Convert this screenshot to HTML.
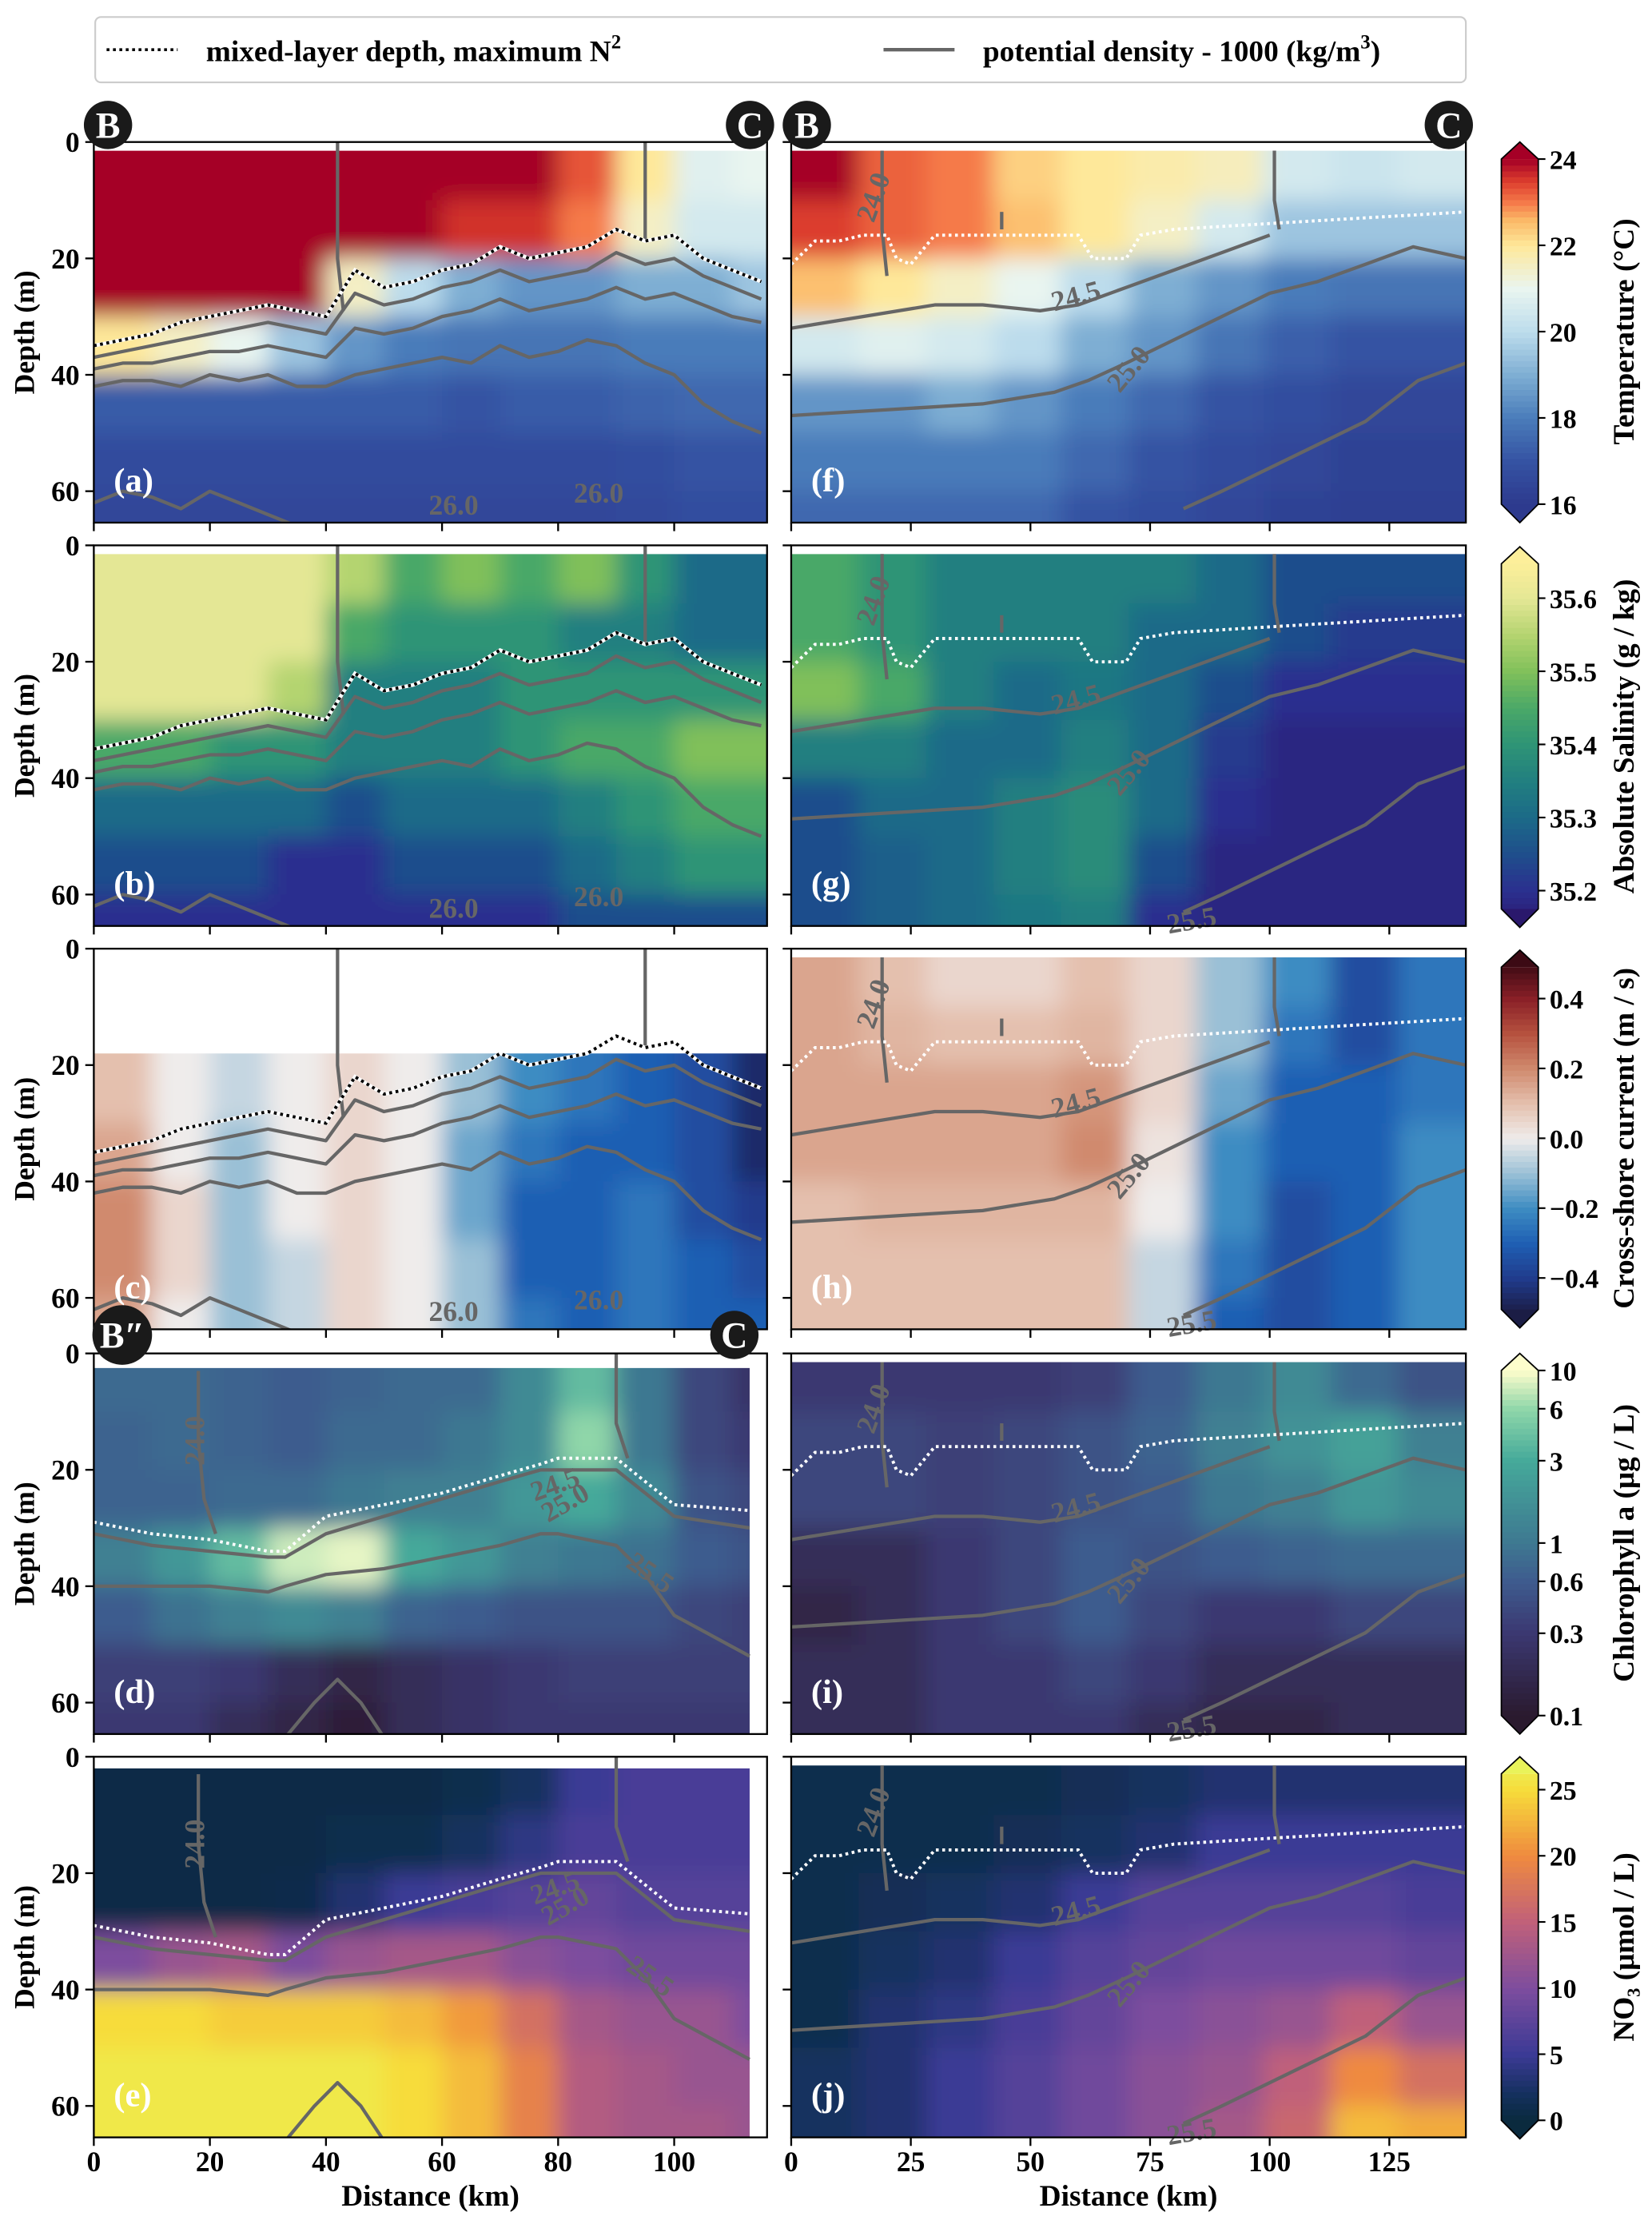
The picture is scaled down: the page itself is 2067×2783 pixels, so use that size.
<!DOCTYPE html>
<html><head><meta charset="utf-8">
<style>
html,body{margin:0;padding:0;background:#fff;}
svg{display:block;font-family:"Liberation Serif",serif;font-weight:bold;}
</style></head>
<body>
<svg id="fig" xmlns="http://www.w3.org/2000/svg" width="2067" height="2783" viewBox="0 0 1163 1566">
<defs>
<filter id="blur" x="-5%" y="-5%" width="110%" height="110%"><feGaussianBlur stdDeviation="8"/></filter>
</defs>
<g id="legend">
<rect x="67" y="12" width="965" height="46" rx="4" fill="#fff" stroke="#ccc" stroke-width="1.2"/>
<line x1="75" y1="35" x2="125" y2="35" stroke="#000" stroke-width="2" stroke-dasharray="2,2.5"/>
<text x="145" y="43" font-size="21">mixed-layer depth, maximum N<tspan font-size="14" dy="-9">2</tspan></text>
<line x1="622" y1="35" x2="672" y2="35" stroke="#666" stroke-width="2.5"/>
<text x="692" y="43" font-size="21">potential density - 1000 (kg/m<tspan font-size="14" dy="-9">3</tspan><tspan dy="9">)</tspan></text>
</g>
<g id="panels"></g>
<g id="cbars"></g>
</svg>
<script>
// ---------- DATA ----------
const depthEdges = [1.5,10,20,30,40,50,60,65.4];
const leftKmMax = 116, rightKmMax = 141;
const leftColKm = [0,10,20,30,40,50,60,70,80,90,100,110,116];
const rightColKm = [0,14.1,28.2,42.3,56.4,70.5,84.6,98.7,112.8,126.9,141];

const tempLeft = [
[24,24,24,24,24,24,24,24,23.3,22,20.8,21],
[24,24,24,24,24,24,23.6,23.6,23,21.5,20.5,20.5],
[24,24,24,24,21.5,20,19,18.5,18.5,19,19,19.5],
[22,21.5,21,19.5,18.5,18,17.8,17.8,17.8,18,18,18],
[17.2,17.2,17.2,17.2,17.2,17.2,17,17.2,17.2,17.4,17.5,17.5],
[16.7,16.7,16.7,16.7,16.7,16.7,16.7,16.7,16.7,16.8,17,17],
[16.5,16.5,16.5,16.5,16.5,16.5,16.5,16.5,16.5,16.6,16.8,16.8]];
const tempRight = [
[24,23.2,23,22.3,22,21.8,21.6,20.5,20.3,20.5],
[23.5,23.2,23,22.5,22,21.5,20.5,19.5,19.5,19.5],
[22.5,22,21.5,21,20,19,18.5,18,17.8,17.8],
[20.5,20.8,20.5,20,19,18.5,17.8,17.3,17,17],
[18.5,18.5,19,18.5,18,17.5,17,16.8,16.5,16.5],
[18,18,18,18,17.5,17,16.7,16.5,16.3,16.3],
[17.5,17.5,17.5,17.5,17,16.8,16.5,16.3,16.2,16.2]];
const salLeft = [
[35.6,35.6,35.6,35.6,35.55,35.45,35.5,35.45,35.5,35.4,35.3,35.3],
[35.6,35.6,35.6,35.6,35.45,35.4,35.4,35.4,35.35,35.35,35.3,35.3],
[35.6,35.6,35.6,35.55,35.35,35.35,35.35,35.4,35.4,35.4,35.4,35.4],
[35.45,35.45,35.4,35.4,35.35,35.35,35.35,35.4,35.45,35.45,35.5,35.5],
[35.3,35.3,35.3,35.3,35.25,35.3,35.3,35.3,35.35,35.4,35.45,35.45],
[35.25,35.25,35.25,35.2,35.2,35.25,35.25,35.25,35.3,35.35,35.4,35.4],
[35.2,35.2,35.2,35.2,35.2,35.2,35.2,35.2,35.25,35.25,35.25,35.25]];
const salRight = [
[35.45,35.4,35.35,35.35,35.35,35.35,35.3,35.25,35.25,35.25],
[35.45,35.4,35.35,35.35,35.35,35.3,35.3,35.25,35.22,35.22],
[35.5,35.45,35.35,35.3,35.33,35.3,35.25,35.2,35.2,35.2],
[35.35,35.35,35.3,35.3,35.35,35.3,35.22,35.18,35.18,35.18],
[35.25,35.3,35.3,35.35,35.38,35.3,35.2,35.18,35.18,35.18],
[35.25,35.28,35.3,35.35,35.38,35.25,35.18,35.18,35.18,35.18],
[35.25,35.28,35.3,35.33,35.35,35.2,35.18,35.18,35.18,35.18]];
const curLeft = [
[null,null,null,null,null,null,null,null,null,null,null,null],
[0.1,0,-0.05,0,0.05,0,-0.1,-0.2,-0.25,-0.3,-0.35,-0.45],
[0.1,0,-0.05,0,0.05,0,-0.1,-0.2,-0.25,-0.3,-0.35,-0.45],
[0.15,0,-0.1,0,0.05,0,-0.15,-0.25,-0.3,-0.3,-0.35,-0.45],
[0.2,0.05,-0.1,0,0.05,0,-0.15,-0.3,-0.3,-0.25,-0.35,-0.4],
[0.2,0.05,-0.1,-0.05,0.05,0,-0.1,-0.3,-0.3,-0.25,-0.3,-0.35],
[0.15,0,-0.1,-0.05,0.05,0,-0.1,-0.25,-0.3,-0.25,-0.3,-0.3]];
const curRight = [
[0.15,0.1,0.05,0.05,0.1,0.05,-0.1,-0.2,-0.35,-0.25],
[0.15,0.12,0.1,0.1,0.12,0.05,-0.1,-0.25,-0.35,-0.25],
[0.15,0.15,0.15,0.15,0.18,0.05,-0.15,-0.3,-0.3,-0.25],
[0.15,0.15,0.15,0.15,0.2,0.02,-0.2,-0.3,-0.3,-0.2],
[0.1,0.12,0.12,0.12,0.12,0,-0.2,-0.35,-0.3,-0.2],
[0.1,0.1,0.1,0.1,0.1,-0.05,-0.25,-0.35,-0.3,-0.2],
[0.1,0.1,0.1,0.1,0.1,-0.05,-0.3,-0.35,-0.3,-0.2]];
const chlLeft = [
[0.8,0.8,0.7,0.6,0.7,0.8,0.8,1.5,4,1,0.4,0.25],
[0.7,0.8,0.7,0.6,0.8,0.8,1,1.5,6,1,0.4,0.3],
[0.7,0.7,0.8,0.8,1,1.2,1.2,2,3,1.5,0.5,0.4],
[1.2,2,4,8,9,3,2,1.2,1,0.9,0.6,0.5],
[0.6,0.9,1.2,1.5,1.2,0.7,0.6,0.5,0.5,0.5,0.4,0.35],
[0.35,0.35,0.3,0.2,0.15,0.2,0.25,0.3,0.35,0.35,0.35,0.35],
[0.3,0.3,0.2,0.15,0.12,0.2,0.25,0.3,0.3,0.3,0.3,0.3]];
const chlRight = [
[0.3,0.3,0.3,0.3,0.35,0.6,1,1.5,0.8,0.5],
[0.4,0.4,0.35,0.4,0.5,0.7,1.2,1.8,2.5,1.2],
[0.4,0.4,0.35,0.4,0.5,0.6,1,1.2,2,1.5],
[0.2,0.2,0.3,0.4,0.6,0.5,0.6,0.7,0.8,0.8],
[0.15,0.2,0.3,0.4,0.6,0.4,0.3,0.3,0.4,0.4],
[0.2,0.2,0.3,0.3,0.4,0.3,0.2,0.2,0.2,0.2],
[0.2,0.2,0.3,0.3,0.3,0.2,0.15,0.15,0.2,0.2]];
const no3Left = [
[0.5,0.5,0.5,0.5,0.5,0.5,1,2,5,6,6,6],
[0.5,0.5,0.5,0.5,1,1,2,4,6,6,6,6],
[0.5,0.5,0.5,0.8,3,5,6,7,8,7,7,7],
[10,12,13,10,12,13,13,11,10,9,9,9],
[25,25,24,24,24,23,21,17,13,12,12,10],
[26,26,26,26,26,25,23,19,14,13,12,12],
[26,26,26,26,26,25,23,19,14,13,13,12]];
const no3Right = [
[1,1,1,1,1.5,2,3,3,3,3],
[1,1,1,1.5,2,3,5,5,5,5],
[1,1.5,2,3,5,7,7,7,7,6],
[1,2,3,5,7,8,9,9,9,8],
[1,3,4,6,8,10,11,12,15,12],
[2,3,5,7,9,11,12,15,20,17],
[2,3,5,7,9,11,13,16,23,22]];

// line data (distance km / depth m)
const jagKm = [0,5,10,15,20,25,30,35,40,45,50,55,60,65,70,75,80,85,90,95,100,105,110,115];
const jagMld = [35,34,33,31,30,29,28,29,30,22,25,24,22,21,18,20,19,18,15,17,16,20,22,24];
const jag245 = [37,36,35,34,33,32,31,32,33,26,28,27,25,24,22,24,23,22,19,21,20,23,25,27];
const jag250 = [39,38,38,37,36,36,35,36,37,32,33,32,30,29,27,29,28,27,25,27,26,28,30,31];
const jag255 = [42,41,41,42,40,41,40,42,42,40,39,38,37,38,35,37,36,34,35,38,40,45,48,50];
const jag260 = [62,60,61,63,60,62,64,66,66,66,66,66,66,66,66,66,66,66,66,66,66,66,66,66];
const smKm = [0,10,20,30,33,40,50,60,70,77,80,90,95,100,113];
const smMld = [29,31,32,34,34,28,26,24,21,19,18,18,22,26,27];
const sm250 = [31,33,34,35,35,31,28,25,22,20,20,20,24,28,30];
const sm255 = [40,40,40,41,40,38,37,35,33,31,31,33,38,45,52];
const rKmMld = [0,5,10,15,20,22,25,30,40,50,60,63,67,70,73,80,100,141];
const rMld = [21,17,17,16,16,20,21,16,16,16,16,20,20,20,16,15,14,12];
const rKm245 = [0,15,30,40,52,60,70,80,90,100];
const r245 = [32,30,28,28,29,28,25,22,19,16];
const rKm250 = [0,20,40,55,62,70,80,90,100,110,120,130,141];
const r250 = [47,46,45,43,41,38,34,30,26,24,21,18,20];
const rKm255 = [82,90,100,110,120,131,141];
const r255 = [63,60,56,52,48,41,38];

// colorbar ticks
const tempTicks = [16,18,20,22,24];
const salTicks = [35.2,35.3,35.4,35.5,35.6];
const curTicks = [-0.4,-0.2,0.0,0.2,0.4];
const curTickLabels = ["\u22120.4","\u22120.2","0.0","0.2","0.4"];
const chlTicks = [0.1,0.3,0.6,1,3,6,10];
const no3Ticks = [0,5,10,15,20,25];
const depthTicks = [0,20,40,60];
const leftXTicks = [0,20,40,60,80,100];
const rightXTicks = [0,25,50,75,100,125];

// ---------- COLORMAPS ----------
const CM = {
 temp:[[16,'#2d3a8e'],[17,'#3553a3'],[18,'#4a7cba'],[19,'#7eaed3'],[20,'#bcdcec'],[21,'#e9f5f0'],[22,'#fee89a'],[22.6,'#fbb867'],[23,'#f57a4a'],[23.5,'#dc3d2d'],[24,'#a50026']],
 sal:[[35.15,'#2a186c'],[35.2,'#2b2f8f'],[35.25,'#1f4e8c'],[35.3,'#1c6a88'],[35.35,'#217f80'],[35.4,'#2e9476'],[35.45,'#4aa868'],[35.5,'#80c05a'],[35.55,'#b4d470'],[35.6,'#e4e795'],[35.65,'#fdef9a']],
 cur:[[-0.5,'#1b1d45'],[-0.4,'#203b8c'],[-0.3,'#1f5fb3'],[-0.2,'#3d8cc2'],[-0.1,'#9ac0d6'],[0,'#efeceb'],[0.1,'#e4c0ae'],[0.2,'#d08a6e'],[0.3,'#b6523f'],[0.4,'#8a2027'],[0.5,'#3c0a14']],
 chl:[[-1,'#2a1a2e'],[-0.52,'#3b3871'],[-0.22,'#3e5b8e'],[0,'#3e7891'],[0.48,'#45a99a'],[0.78,'#8fd6a9'],[1,'#fdfdcc']],
 no3:[[0,'#0a2a3e'],[2,'#14305e'],[5,'#3b3a95'],[10,'#7d4d9e'],[15,'#c0607a'],[20,'#ef8a3f'],[25,'#f7dc3a'],[27,'#e9f35a']]
};
function hex(h){return [1,3,5].map(i=>parseInt(h.substr(i,2),16));}
function cmap(name,v){
 const s=CM[name]; if(name==='chl') v=Math.log10(v);
 if(v<=s[0][0]) return s[0][1]; if(v>=s[s.length-1][0]) return s[s.length-1][1];
 for(let i=0;i<s.length-1;i++){ if(v>=s[i][0]&&v<=s[i+1][0]){
  const t=(v-s[i][0])/(s[i+1][0]-s[i][0]); const a=hex(s[i][1]),b=hex(s[i+1][1]);
  return 'rgb('+a.map((x,k)=>Math.round(x+(b[k]-x)*t)).join(',')+')';}}
}

// ---------- LAYOUT ----------
const NS='http://www.w3.org/2000/svg';
function el(tag,attrs,parent){const e=document.createElementNS(NS,tag);for(const k in attrs)e.setAttribute(k,attrs[k]);parent.appendChild(e);return e;}
const rowsY=[100,384,668,953,1237], PH=268, DMAX=65.4;
const L={x0:66,x1:540,km:leftKmMax}, R={x0:557,x1:1032,km:rightKmMax};
const panelsG=document.getElementById('panels');

const panels=[
 {lab:'(a)',side:L,row:0,data:tempLeft,cm:'temp',cols:leftColKm,top:1.5,xmax:116,lines:'jag',mldColor:'#000'},
 {lab:'(b)',side:L,row:1,data:salLeft,cm:'sal',cols:leftColKm,top:1.5,xmax:116,lines:'jag',mldColor:'#000'},
 {lab:'(c)',side:L,row:2,data:curLeft,cm:'cur',cols:leftColKm,top:18,xmax:116,lines:'jag',mldColor:'#000'},
 {lab:'(d)',side:L,row:3,data:chlLeft,cm:'chl',cols:leftColKm,top:2.5,xmax:113,lines:'sm',mldColor:'#fff'},
 {lab:'(e)',side:L,row:4,data:no3Left,cm:'no3',cols:leftColKm,top:2,xmax:113,lines:'sm',mldColor:'#fff'},
 {lab:'(f)',side:R,row:0,data:tempRight,cm:'temp',cols:rightColKm,top:1.5,xmax:141,lines:'r',mldColor:'#fff'},
 {lab:'(g)',side:R,row:1,data:salRight,cm:'sal',cols:rightColKm,top:1.5,xmax:141,lines:'r',mldColor:'#fff'},
 {lab:'(h)',side:R,row:2,data:curRight,cm:'cur',cols:rightColKm,top:1.5,xmax:141,lines:'r',mldColor:'#fff'},
 {lab:'(i)',side:R,row:3,data:chlRight,cm:'chl',cols:rightColKm,top:1.5,xmax:141,lines:'r',mldColor:'#fff'},
 {lab:'(j)',side:R,row:4,data:no3Right,cm:'no3',cols:rightColKm,top:1.5,xmax:141,lines:'r',mldColor:'#fff'}
];

panels.forEach((p,pi)=>{
 const s=p.side, y0=rowsY[p.row];
 const X=km=>s.x0+km*(s.x1-s.x0)/s.km;
 const Y=d=>y0+d*PH/DMAX;
 const g=el('g',{},panelsG);
 
 
 const cid='clip'+pi;
 const cp=el('clipPath',{id:cid},g);
 el('rect',{x:s.x0,y:Y(p.top),width:X(p.xmax)-s.x0,height:Y(DMAX)-Y(p.top)},cp);
 const cg=el('g',{'clip-path':'url(#'+cid+')'},g);
 const fg=el('g',{filter:'url(#blur)'},cg);
 const nc=p.cols.length-1;
 p.data.forEach((row,ri)=>{
  row.forEach((v,ci)=>{
   if(v===null) return;
   let d0=Math.max(depthEdges[ri],p.top), d1=depthEdges[ri+1];
   let k0=p.cols[ci], k1=Math.min(p.cols[ci+1],p.xmax);
   let xa=X(k0), xb=X(k1), ya=Y(d0), yb=Y(d1);
   if(ci===0) xa-=25; if(ci===nc-1) xb+=25;
   if(ri===p.data.length-1) yb+=25;
   if(d0===p.top) ya-=25;
   const r=el('rect',{x:xa,y:ya,width:xb-xa+0.5,height:yb-ya+0.5,fill:cmap(p.cm,v)},fg);
   
   
  });
 });
 const lg=el('g',{'clip-path':'url(#'+cid+'b)'},g);
 const cp2=el('clipPath',{id:cid+'b'},g);
 el('rect',{x:s.x0,y:y0,width:s.x1-s.x0,height:PH},cp2);
 function poly(kms,ds,attrs,name){
  const pts=kms.map((k,i)=>X(k).toFixed(1)+','+Y(ds[i]).toFixed(1)).join(' ');
  const e=el('polyline',Object.assign({points:pts,fill:'none'},attrs),lg);
  
  
  return e;
 }
 const gl={stroke:'#666',"stroke-width":2.4,"stroke-linejoin":'round'};
 if(p.lines==='jag'){
  poly(jagKm,jag245,gl,'density-24.5');
  poly(jagKm,jag250,gl,'density-25.0');
  poly(jagKm,jag255,gl,'density-25.5');
  poly(jagKm,jag260,gl,'density-26.0');
  poly([42,42,43],[0,20,29],gl,'density-24.0');
  poly([95,95],[0,17],gl,'density-24.0b');
  poly(jagKm,jagMld,{stroke:'#fff',"stroke-width":2.6},'mld-underlay');
  poly(jagKm,jagMld,{stroke:p.mldColor,"stroke-width":2.2,"stroke-dasharray":'2,2.5'},'mixed-layer-depth');
 } else if(p.lines==='sm'){
  poly(smKm,sm250,gl,'density-25.0');
  poly(smKm,sm255,gl,'density-25.5');
  poly([18,18,19,21],[3,15,25,31],gl,'density-24.0');
  poly([90,90,92],[0,12,18],gl,'density-24.0b');
  poly([33,38,42,46,50],[66,60,56,60,66],gl,'density-26.0');
  poly(smKm,smMld,{stroke:p.mldColor,"stroke-width":2.2,"stroke-dasharray":'2,2.5'},'mixed-layer-depth');
 } else {
  poly(rKm245,r245,gl,'density-24.5');
  poly(rKm250,r250,gl,'density-25.0');
  poly(rKm255,r255,gl,'density-25.5');
  poly([19,19,20],[1.5,15,23],gl,'density-24.0');
  poly([101,101,102],[1.5,10,15],gl,'density-24.0b');
  poly([44,44],[12,15],gl,'density-tick');
  poly(rKmMld,rMld,{stroke:p.mldColor,"stroke-width":2.2,"stroke-dasharray":'2,2.5'},'mixed-layer-depth');
 }
 const cl=(txt,k,d,rot)=>{const t=el('text',{x:X(k),y:Y(d),'font-size':20,fill:'#666','text-anchor':'middle',transform:'rotate('+rot+' '+X(k)+' '+Y(d)+')'},g);t.textContent=txt;};
 if(p.lines==='r'){cl('24.0',19,10,-70);cl('24.5',60,28,-15);cl('25.0',72,40,-50);if(p.row>0)cl('25.5',84,66,-10);}
 if(p.lines==='sm'){cl('24.0',19,15,-90);cl('24.5',80,24,-20);cl('25.0',82,27,-30);cl('25.5',95,39,35);}
 if(p.lines==='jag'){cl('26.0',62,64,0);cl('26.0',87,62,0);}
 const f=el('rect',{x:s.x0,y:y0,width:s.x1-s.x0,height:PH,fill:'none',stroke:'#000','stroke-width':1.3},g);
 
 depthTicks.forEach(d=>{
  el('line',{x1:s.x0-6,x2:s.x0,y1:Y(d),y2:Y(d),stroke:'#000','stroke-width':1.3},g);
  if(s===L){const t=el('text',{x:s.x0-10,y:Y(d)+7,'font-size':20,'text-anchor':'end'},g);t.textContent=d;
   }
 });
 (s===L?leftXTicks:rightXTicks).forEach(k=>{
  el('line',{x1:X(k),x2:X(k),y1:y0+PH,y2:y0+PH+6,stroke:'#000','stroke-width':1.3},g);
  if(p.row===4){const t=el('text',{x:X(k),y:y0+PH+24,'font-size':20,'text-anchor':'middle'},g);t.textContent=k;
   }
 });
 if(s===L){const t=el('text',{x:0,y:0,'font-size':20,'text-anchor':'middle',transform:'translate(24 '+(y0+PH/2)+') rotate(-90)'},g);t.textContent='Depth (m)';
  }
 if(p.row===4){const t=el('text',{x:(s.x0+s.x1)/2,y:y0+PH+48,'font-size':21,'text-anchor':'middle'},g);t.textContent='Distance (km)';
  }
 const pl=el('text',{x:s.x0+14,y:y0+PH-22,'font-size':24,fill:'#fff'},g);pl.textContent=p.lab;
 
});

[[76,88,17,'B'],[528,88,17,'C'],[568,88,17,'B'],[1020,88,17,'C'],[86,940,21,'B\u2033'],[517,940,17,'C']].forEach(m=>{
 const g=el('g',{},panelsG);
 
 
 el('circle',{cx:m[0],cy:m[1],r:m[2],fill:'#1a1a1a'},g);
 const t=el('text',{x:m[0],y:m[1]+9,'font-size':26,fill:'#fff','text-anchor':'middle'},g);t.textContent=m[3];
});

const cbG=document.getElementById('cbars');
const cbars=[
 {cm:'temp',y0:112,y1:355,vmin:16,vmax:24,ticks:tempTicks,labels:tempTicks.map(String),title:'Temperature (\u00B0C)',name:'temperature-colorbar'},
 {cm:'sal',y0:397,y1:640,vmin:35.175,vmax:35.647,ticks:salTicks,labels:salTicks.map(v=>v.toFixed(1)),title:'Absolute Salinity (g / kg)',name:'salinity-colorbar'},
 {cm:'cur',y0:681,y1:922,vmin:-0.49,vmax:0.49,ticks:curTicks,labels:curTickLabels,title:'Cross-shore current (m / s)',name:'current-colorbar'},
 {cm:'chl',y0:965,y1:1208,vmin:0.1,vmax:10,ticks:chlTicks,labels:chlTicks.map(String),title:'Chlorophyll a (\u03BCg / L)',name:'chlorophyll-colorbar',log:true},
 {cm:'no3',y0:1249,y1:1493,vmin:0,vmax:26.2,ticks:no3Ticks,labels:no3Ticks.map(String),title:'NO\u2083 (\u03BCmol / L)',name:'nitrate-colorbar'}
];
cbars.forEach(c=>{
 const g=el('g',{},cbG);
 
 
 const f=v=>c.log?Math.log10(v):v;
 const Yv=v=>c.y1-(f(v)-f(c.vmin))/(f(c.vmax)-f(c.vmin))*(c.y1-c.y0);
 const N=60;
 for(let i=0;i<N;i++){
  const t=(i+0.5)/N; let v=f(c.vmin)+t*(f(c.vmax)-f(c.vmin)); if(c.log)v=Math.pow(10,v);
  el('rect',{x:1057,y:c.y1-(i+1)*(c.y1-c.y0)/N,width:26,height:(c.y1-c.y0)/N+0.6,fill:cmap(c.cm,v)},g);
 }
 el('polygon',{points:`1057,${c.y0} 1083,${c.y0} 1070,${c.y0-12}`,fill:cmap(c.cm,c.log?20:c.vmax+1)},g);
 el('polygon',{points:`1057,${c.y1} 1083,${c.y1} 1070,${c.y1+13}`,fill:cmap(c.cm,c.log?0.05:c.vmin-1)},g);
 el('polygon',{points:`1070,${c.y0-12} 1083,${c.y0} 1083,${c.y1} 1070,${c.y1+13} 1057,${c.y1} 1057,${c.y0}`,fill:'none',stroke:'#000','stroke-width':1},g);
 c.ticks.forEach((v,i)=>{
  const y=Yv(v);
  el('line',{x1:1083,x2:1088,y1:y,y2:y,stroke:'#000','stroke-width':1.2},g);
  const t=el('text',{x:1091,y:y+7,'font-size':19},g);t.textContent=c.labels[i];
  
 });
 const tt=el('text',{x:0,y:0,'font-size':21,'text-anchor':'middle',transform:`translate(1150 ${(c.y0+c.y1)/2}) rotate(-90)`},g);
 tt.textContent=c.title;
 
});
</script>
</body></html>
